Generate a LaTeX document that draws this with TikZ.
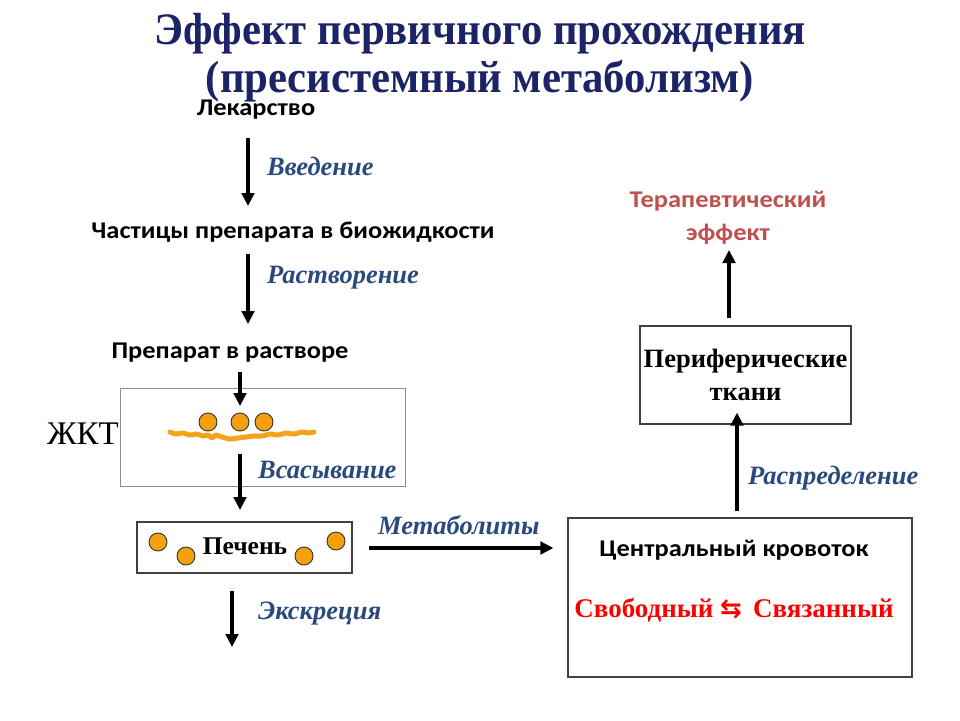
\documentclass[tikz,border=0pt]{standalone}
\usepackage{fontspec}
\setmainfont{Liberation Serif}
\newfontfamily\sansf[FakeStretch=1.1]{Carlito}
\newfontfamily\titlef[FakeStretch=0.95]{Liberation Serif}
\newfontfamily\symf{DejaVu Sans}
\usetikzlibrary{arrows.meta}
\definecolor{titleblue}{HTML}{1C2366}
\definecolor{lblblue}{HTML}{2A4A7E}
\definecolor{thered}{HTML}{C0504D}
\definecolor{dotor}{HTML}{F5A00F}
\definecolor{waveor}{HTML}{F7A21B}
\tikzset{
  flow/.style={line width=3.3pt,-{Triangle[length=13pt,width=12.5pt]}},
  lbl/.style={font=\fontsize{26.5}{30}\selectfont\bfseries\itshape,text=lblblue,anchor=west,inner sep=0pt},
  stage/.style={font=\sansf\fontsize{24}{28}\selectfont\bfseries,inner sep=0pt},
  boxs/.style={draw=black!75,line width=1.2pt},
  dot/.style={circle,draw=black!80,fill=dotor,line width=0.9pt,minimum size=18pt,inner sep=0pt}
}
\begin{document}
\begin{tikzpicture}[x=1pt,y=-1pt]
\useasboundingbox (0,0) rectangle (960,720);
\fill[white] (0,0) rectangle (960,720);
% title
\node[font=\titlef\fontsize{45}{48}\selectfont\bfseries,text=titleblue,align=center,inner sep=0pt] (title) at (480,58)
  {Эффект первичного прохождения\\(пресистемный метаболизм)};
% left chain
\node[stage] (drug) at (256,110) {Лекарство};
\coordinate (a1s) at (248,138); \coordinate (a1e) at (248,206);
\draw[flow] (a1s) -- (a1e);
\node[lbl] (l1) at (267,166) {Введение};
\node[stage] (part) at (293,232) {Частицы препарата в биожидкости};
\coordinate (a2s) at (248,254); \coordinate (a2e) at (248,324);
\draw[flow] (a2s) -- (a2e);
\node[lbl] (l2) at (267,278) {Растворение};
\node[stage] (sol) at (230,353) {Препарат в растворе};
% GIT box
\node[draw=black!45,line width=1pt,minimum width=285pt,minimum height=98pt,inner sep=0pt] (git) at (262.5,437) {};
\node[font=\fontsize{33}{35}\selectfont,anchor=east,inner sep=0pt] (gitl) at (119,434) {ЖКТ};
\coordinate (a3s) at (240,372); \coordinate (a3e) at (240,406);
\draw[flow] (a3s) -- (a3e);
\node[dot] (g1) at (208,422) {};
\node[dot] (g2) at (240,422) {};
\node[dot] (g3) at (264,422) {};
\draw[waveor,line width=5pt,line cap=round,line join=round]
  plot[smooth,tension=0.4] coordinates {(170,432) (176,434) (183,433) (190,435) (197,434) (203,436) (208,435) (212,438) (216,435) (222,437) (230,439) (238,438) (246,437) (254,436) (262,436) (270,434) (278,435) (286,433) (294,434) (302,432) (308,433) (314,432)};
\coordinate (a4s) at (240,454); \coordinate (a4e) at (240,510);
\draw[flow] (a4s) -- (a4e);
\node[lbl] (l4) at (258,470) {Всасывание};
% liver
\node[boxs,minimum width=215pt,minimum height=51pt,inner sep=0pt] (liver) at (244.5,547.5) {};
\node[font=\fontsize{25.5}{28}\selectfont\bfseries,inner sep=0pt] (livert) at (245,546) {Печень};
\node[dot] (p1) at (158,542) {};
\node[dot] (p2) at (186,556) {};
\node[dot] (p3) at (304,556) {};
\node[dot] (p4) at (336,541) {};
\coordinate (a5s) at (232,591); \coordinate (a5e) at (232,647);
\draw[flow] (a5s) -- (a5e);
\node[lbl] (l5) at (258,614) {Экскреция};
% metabolites
\node[boxs,minimum width=344pt,minimum height=159pt,inner sep=0pt] (blood) at (740,597.5) {};
\coordinate (m1) at (369,548);
\draw[flow] (m1) -- ([xshift=-14pt]blood.west |- m1);
\node[lbl] (lm) at (378,525) {Метаболиты};
\node[stage] (bloodt) at (734,550) {Центральный кровоток};
\node[font=\fontsize{27}{30}\selectfont\bfseries,text=red,inner sep=0pt] (freeb) at (734,610)
  {Свободный {\symf\fontsize{26}{28}\selectfont ⇆}\, Связанный};
% peripheral
\node[boxs,minimum width=211pt,minimum height=98pt,inner sep=0pt,align=center,font=\fontsize{26.5}{33}\selectfont\bfseries] (peri) at (745.5,375)
  {Периферические\\ткани};
\coordinate (a6s) at (737,511);
\draw[flow] (a6s) -- ([yshift=12pt]a6s |- peri.south);
\node[lbl] (l6) at (748,478) {Распределение};
\node[font=\sansf\fontsize{24}{33}\selectfont\bfseries,text=thered,align=center,inner sep=0pt] (ther) at (728,218)
  {Терапевтический\\эффект};
\coordinate (a7s) at (729,318); \coordinate (a7e) at (729,250);
\draw[flow] (a7s) -- (a7e);
\end{tikzpicture}
\end{document}
